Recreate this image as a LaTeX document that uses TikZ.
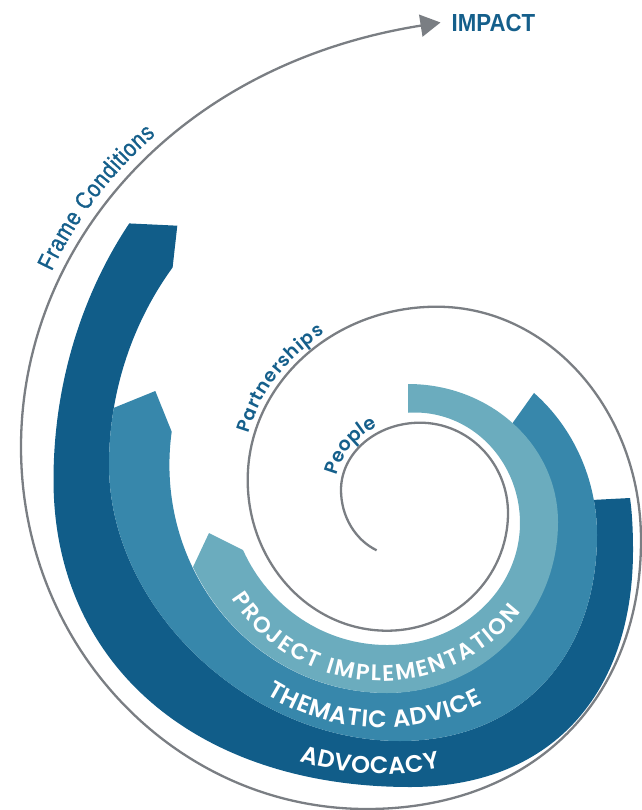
\documentclass[tikz,border=0pt]{standalone}
\usepackage{fontspec}
\usetikzlibrary{arrows.meta,decorations.text}
\newfontfamily\lsans{Liberation Sans}
\newfontfamily\lsansn[FakeStretch=0.86,FakeBold=1.2]{Liberation Sans}
\newfontfamily\popsb{Poppins SemiBold}
\definecolor{dk}{HTML}{115D89}
\definecolor{md}{HTML}{3787AB}
\definecolor{lt}{HTML}{6BACBE}
\definecolor{gr}{HTML}{7A7E83}
\definecolor{tb}{HTML}{155F8B}
\begin{document}
\begin{tikzpicture}[x=1pt,y=-1pt,
  spiral/.style={draw=gr,line width=2.3pt},
  bandtext/.style={decorate,decoration={text along path,text align=fit to path,text color=white,text={#1}}},
  bluetext/.style={decorate,decoration={text along path,text align=fit to path,text color=tb,text={#1}}}]
\useasboundingbox (0,0) rectangle (641,810);

% dark band (Advocacy)
\fill[dk] ([shift={(420,480)}]217.5:366.5 and 421.5)
  arc[start angle=217.5,end angle=180,x radius=366.5,y radius=421.5]
  .. controls (53.5,664.2) and (196.1,787) .. (410,787)
  .. controls (548.3,787) and (633,697) .. (633,550)
  .. controls (633,530) and (632,512) .. (630,498)
  -- ([shift={(420,535)}]349.1:177 and 185.7)
  arc[start angle=349.1,end angle=360,x radius=177,y radius=185.7]
  .. controls (597,658.6) and (518.2,741) .. (400,741)
  .. controls (248.7,741) and (109,608.5) .. (109,465)
  arc[start angle=180,end angle=217.3,x radius=311,y radius=326]
  -- (177.3,225.7) -- cycle;

% medium band (Thematic advice)
\fill[md] ([shift={(420,535)}]310.1:177 and 185.7)
  arc[start angle=310.1,end angle=360,x radius=177,y radius=185.7]
  .. controls (597,658.6) and (518.2,741) .. (400,741)
  .. controls (248.7,741) and (109,608.5) .. (109,465)
  arc[start angle=180,end angle=190.1,x radius=311,y radius=326]
  -- (155.3,391) -- (171.7,431.7)
  arc[start angle=188.3,end angle=180,x radius=217,y radius=230]
  arc[start angle=180,end angle=90,x radius=217,y radius=228]
  arc[start angle=90,end angle=0,x radius=171,y radius=171]
  arc[start angle=0,end angle=-45.6,x radius=150,y radius=138]
  -- cycle;

% light band (Project implementation)
\fill[lt] (408,384)
  arc[start angle=270,end angle=360,x radius=150,y radius=138]
  arc[start angle=0,end angle=90,x radius=171,y radius=171]
  arc[start angle=90,end angle=153.4,x radius=217,y radius=228]
  -- (209,533) -- (243,550)
  arc[start angle=154.9,end angle=90,x radius=159,y radius=165]
  arc[start angle=90,end angle=0,x radius=133,y radius=122]
  arc[start angle=0,end angle=-93.8,x radius=105,y radius=110.5]
  -- cycle;

% band labels
\path[bandtext={|\popsb\fontsize{22.5pt}{23pt}\selectfont|PROJECT IMPLEMENTATION}]
  ([shift={(381,504)}]147.6:177) arc[start angle=147.6,end angle=37.5,radius=177];
\path[bandtext={|\popsb\fontsize{24pt}{24pt}\selectfont|THEMATIC ADVICE}]
  ([shift={(382,506)}]121.5:221.5) arc[start angle=121.5,end angle=63,radius=221.5];
\path[bandtext={|\popsb\fontsize{24pt}{24pt}\selectfont|ADVOCACY}]
  ([shift={(382,506)}]108:268) arc[start angle=108,end angle=77.5,radius=268];

% spiral
\coordinate (tip) at (440.5,22.5);
\node[anchor=west,inner sep=0pt,text=tb,font=\lsans\bfseries\fontsize{24.7pt}{25pt}\selectfont] (impact) at (451.5,23) {\scalebox{0.9}[1]{IMPACT}};
\draw[spiral,-{Triangle[length=20pt,width=22pt]}]
  ([shift={(401,490)}]114:60 and 66)
  arc[start angle=114,end angle=180,x radius=60,y radius=66]
  arc[start angle=180,end angle=270,x radius=79,y radius=67.3]
  arc[start angle=270,end angle=360,x radius=88,y radius=90.3]
  arc[start angle=0,end angle=90,x radius=121,y radius=117.7]
  arc[start angle=90,end angle=180,x radius=139.3,y radius=150.7]
  arc[start angle=180,end angle=270,x radius=189,y radius=173.3]
  arc[start angle=270,end angle=360,x radius=204.3,y radius=233.3]
  .. controls (641,701.4) and (531.3,809) .. (366.7,809)
  arc[start angle=90,end angle=180,x radius=345.7,y radius=362]
  .. controls (21,247) and (174.3,64.75) .. (tip);

% spiral labels
\path[bluetext={|\popsb\fontsize{19pt}{19pt}\selectfont|People}]
  ([shift={(420,490)}]191.6:85 and 73) arc[start angle=191.6,end angle=237.5,x radius=85,y radius=73];
\path[bluetext={|\popsb\fontsize{18.5pt}{19pt}\selectfont|Partnerships}]
  ([shift={(436.7,480)}]195:195 and 179) arc[start angle=195,end angle=235,x radius=195,y radius=179];
\path[bluetext={|\lsansn\fontsize{24pt}{24pt}\selectfont|Frame Conditions}]
  ([shift={(425,448)}]205.3:413) arc[start angle=205.3,end angle=229.3,radius=413];
\end{tikzpicture}
\end{document}
